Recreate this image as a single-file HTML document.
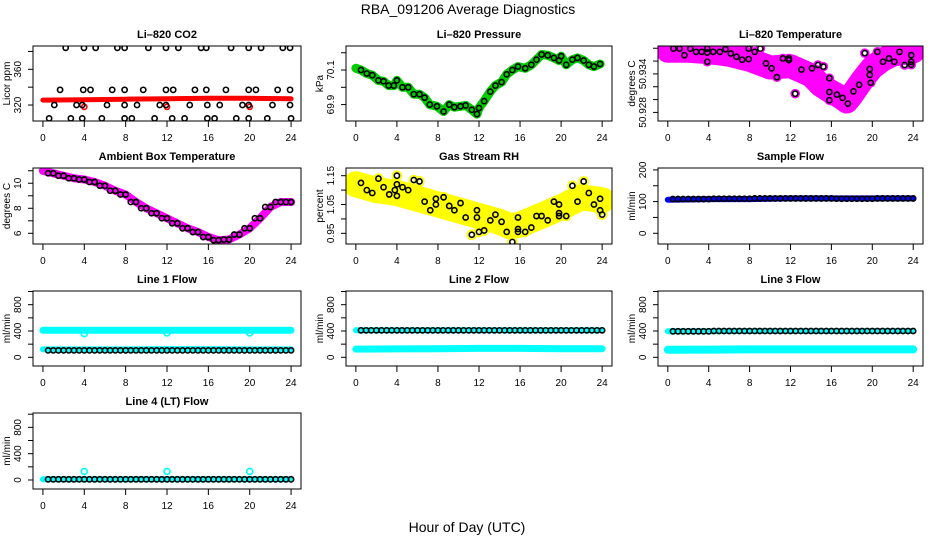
<!DOCTYPE html>
<html><head><meta charset="utf-8">
<style>
html,body{margin:0;padding:0;background:#fff;}
svg{display:block;font-family:"Liberation Sans",sans-serif;}
</style></head>
<body>
<svg id="chart" width="936" height="540" viewBox="0 0 936 540" xmlns="http://www.w3.org/2000/svg">
<text x="468" y="14" text-anchor="middle" font-size="14">RBA_091206  Average Diagnostics</text>
<text x="467" y="532" text-anchor="middle" font-size="14">Hour of Day (UTC)</text>
</svg>
<script>
// ---------- data ----------
const xTicks = [0,4,8,12,16,20,24];

const co2RedHours = [0,4,8,12,16,20,24];
const co2RedVals = [325.5,326,326.5,327,327.5,327.5,327];
const co2OutHours = [4,12,20];
const co2OutVals = [318,318,318];
const co2BlackHours = [2.2,3.97,5.1,7.2,7.9,10.2,11.9,13.1,15.3,15.8,18.2,19.9,21.1,23.2,23.9,
 1.66,3.9,4.6,6.7,7.9,9.7,11.9,12.6,14.7,15.8,17.7,19.9,20.6,22.7,23.9,
 1.1,3.25,3.8,6.2,7.9,9.1,11.3,11.9,14.2,15.9,17.1,19.3,19.9,22.2,23.9,
 0.6,2.7,3.8,5.7,7.9,8.6,10.8,12.5,13.7,15.9,16.6,18.7,19.9,21.7,24];
const co2BlackVals = [384,384,384,384,384,384,384,384,384,384,384,384,384,384,384,
 337,337,337,337,337,337,337,337,337,337,337,337,337,337,337,
 320,320,320,320,320,320,320,320,320,320,320,320,320,320,320,
 305,305,305,305,305,305,305,305,305,305,305,305,305,305,305];

const presHours = [0,0.5,1.07,1.6,2.2,2.7,3.2,3.7,4.0,4.55,5.1,5.65,6.2,6.7,7.2,7.9,8.55,9.1,9.6,10.2,10.7,11.3,11.8,12,12.5,13.1,13.6,14.2,14.7,15.25,15.8,16.5,17.1,17.6,18.1,18.7,19.3,19.8,20,20.5,21.1,21.6,22.2,22.7,23.2,23.8];
const presVals = [70.11,70.10,70.08,70.07,70.04,70.035,70.01,70.01,70.04,70.0,70.0,69.96,69.96,69.94,69.9,69.89,69.86,69.9,69.885,69.89,69.895,69.87,69.845,69.88,69.92,69.975,70.01,70.03,70.075,70.1,70.12,70.11,70.13,70.16,70.19,70.185,70.17,70.155,70.18,70.13,70.16,70.17,70.155,70.13,70.12,70.135];

const ltBandHours = [0,2,4,6,8,10,12,13,14,15,16,17,17.5,18,19,20,21,22,24];
const ltBandVals = [50.9376,50.9376,50.9374,50.9370,50.9362,50.9350,50.9352,50.9345,50.9338,50.9322,50.9312,50.9303,50.9297,50.9307,50.9330,50.9350,50.9362,50.9370,50.9375];
const ltHours = [0.55,1.14,1.62,2.2,2.76,3.31,3.86,3.86,3.86,4.44,5.09,5.64,6.16,6.71,7.27,7.91,7.91,8.5,9.05,9.6,10.15,10.67,11.26,11.84,11.84,12.46,13.07,14.1,14.69,15.21,15.8,15.8,15.8,16.54,17.09,17.61,18.16,18.71,19.27,19.75,19.75,19.85,20.5,21.05,21.63,22.15,22.67,23.16,23.81,23.81,23.81];
const ltVals = [50.93795,50.93795,50.93692,50.93795,50.93744,50.93744,50.93795,50.93733,50.9359,50.93744,50.93744,50.93785,50.93718,50.93667,50.93621,50.93795,50.93631,50.93744,50.93795,50.93564,50.93487,50.93349,50.93641,50.93641,50.93615,50.93092,50.93467,50.93487,50.93539,50.93513,50.93333,50.93118,50.9299,50.93077,50.93026,50.92938,50.93128,50.9323,50.93723,50.93477,50.93385,50.93262,50.93744,50.9359,50.93641,50.9359,50.93744,50.93539,50.93692,50.9359,50.93544];

const ambHours = [0,1,2,3,4,5,6,7,8,9,10,11,12,13,14,15,16,17,18,19,20,21,22,23,24];
const ambVals = [11.0,10.8,10.6,10.4,10.3,10.1,9.8,9.4,9.1,8.5,8.0,7.6,7.2,6.8,6.4,6.1,5.7,5.45,5.5,5.9,6.4,7.2,8.1,8.5,8.5];

const rhBandHours = [0,2,4,6,8,10,12,14,15,16,18,20,22,24];
const rhBandVals = [1.12,1.10,1.09,1.07,1.05,1.03,1.01,0.99,0.975,0.98,1.01,1.04,1.075,1.065];
const rhHours = [0.5,1.07,1.6,2.2,2.7,3.25,3.8,4,4,4,4.55,5.1,5.65,6.2,6.7,7.25,7.8,7.8,8.55,9.1,9.6,10.2,10.7,11.3,11.8,11.8,12,12.5,13.1,13.6,14.2,14.7,15.25,15.8,15.8,15.8,16.5,17.1,17.6,18.1,18.7,19.3,19.8,19.8,19.8,20.5,21.1,21.6,22.2,22.7,23.2,23.8,23.8,24];
const rhVals = [1.125,1.10,1.09,1.14,1.11,1.085,1.10,1.15,1.12,1.08,1.11,1.10,1.135,1.13,1.06,1.03,1.07,1.05,1.075,1.045,1.03,1.055,1.005,0.945,1.03,1.005,0.955,0.96,0.995,1.015,0.99,0.955,0.92,1.005,0.965,0.955,0.955,0.97,1.01,1.01,0.995,1.06,1.05,1.02,1.01,1.01,1.115,1.06,1.13,1.09,1.05,1.07,1.03,1.015];

const sfHours = [0,4,8,12,16,20,24];
const sfBlue = [106,108,108,110,110,110,110];
const sfBlack = [106,108,109,110,110,109,110];

const l1Cyan = [410,410,410,410,410,410,410];
const l1CyanLow = [120,120,120,125,125,120,120];
const l1Black = [105,105,105,105,105,105,105];
const l1OutHours = [4,12,20];
const l1OutVals = [360,370,370];
const l2CyanLow = [125,128,130,135,135,130,130];
const l2Black = [410,410,410,410,410,410,410];
const l3CyanLow = [115,118,120,120,120,120,120];
const l3Black = [395,395,400,400,400,400,400];
const l4Black = [10,10,10,10,10,10,10];
const l4OutHours = [4,12,20];
const l4OutVals = [130,130,130];

// ---------- drawing ----------
const svg = document.getElementById('chart');
const NS = 'http://www.w3.org/2000/svg';
function mk(tag, attrs, parent){
  const e = document.createElementNS(NS, tag);
  for (const k in attrs) e.setAttribute(k, attrs[k]);
  (parent||svg).appendChild(e);
  return e;
}
const cols = [[33,301],[346,612],[658,923]];
const rows = [[46,121],[168,244],[291,366],[413,489]];

function panel(name, c, r, ymin, ymax, ticks, labels, ylab, title){
  const [x0,x1] = cols[c], [y0,y1] = rows[r];
  const g = mk('g', {});
  
  
  const sx = h => x0 + (h + 0.96) / 25.92 * (x1 - x0);
  const sy = v => y1 - (v - ymin) / (ymax - ymin) * (y1 - y0);
  const clip = mk('clipPath', {id: 'clip-' + name}, g);
  mk('rect', {x:x0, y:y0, width:x1-x0, height:y1-y0}, clip);
  const plot = mk('g', {'clip-path': 'url(#clip-' + name + ')'}, g);
  
  
  const t = mk('text', {x:(x0+x1)/2, y:y0-8, 'text-anchor':'middle', 'font-size':11, 'font-weight':'bold'}, g);
  t.textContent = title;
  
  
  xTicks.forEach(h => {
    mk('line', {x1:sx(h), x2:sx(h), y1:y1, y2:y1+6, stroke:'#000', 'stroke-width':1}, g);
    const tl = mk('text', {x:sx(h), y:y1+20, 'text-anchor':'middle', 'font-size':10}, g);
    tl.textContent = h;
    
    
  });
  ticks.forEach(v => {
    mk('line', {x1:x0-5, x2:x0, y1:sy(v), y2:sy(v), stroke:'#000', 'stroke-width':1}, g);
  });
  labels.forEach(v => {
    const yl = mk('text', {x:0, y:0, 'text-anchor':'middle', 'font-size':10, transform:'translate(' + (x0-12) + ',' + sy(v) + ') rotate(-90)'}, g);
    yl.textContent = v;
    
    
  });
  const yt = mk('text', {x:0, y:0, 'text-anchor':'middle', 'font-size':10, transform:'translate(' + (x0-23) + ',' + ((y0+y1)/2) + ') rotate(-90)'}, g);
  yt.textContent = ylab;
  
  
  mk('rect', {x:x0, y:y0, width:x1-x0, height:y1-y0, fill:'none', stroke:'#000', 'stroke-width':1}, g);
  return {plot, sx, sy};
}
function band(p, hours, vals, color, w, name){
  const d = hours.map((h,i) => (i ? 'L' : 'M') + p.sx(h).toFixed(1) + ',' + p.sy(vals[i]).toFixed(1)).join(' ');
  const e = mk('path', {d, fill:'none', stroke:color, 'stroke-width':w, 'stroke-linecap':'round', 'stroke-linejoin':'round'}, p.plot);
  
  
}
function pts(p, hours, vals, color, name, rr){
  hours.forEach((h,i) => {
    const c = mk('circle', {cx:p.sx(h), cy:p.sy(vals[i]), r:rr||2.6, fill:'none', stroke:color, 'stroke-width':1.6}, p.plot);
    
    
  });
}
function halfPts(p, hours, vals, color, name){
  for (let i = 0; i < hours.length - 1; i++) {
    for (let h = hours[i] + 0.5; h <= hours[i+1] + 0.001; h += 0.5) {
      const c = mk('circle', {cx:p.sx(h), cy:p.sy(vals[i+1]), r:2.6, fill:'none', stroke:color, 'stroke-width':1.6}, p.plot);
      
      
    }
  }
}

let p = panel('co2', 0, 0, 302.1, 386.1, [320,340,360,380], [320,360], 'Licor ppm', 'Li\u2013820 CO2');
band(p, co2RedHours, co2RedVals, '#f00', 5, 'co2-red-series');
pts(p, co2OutHours, co2OutVals, '#f00', 'co2-red-outlier');
pts(p, co2BlackHours, co2BlackVals, '#000', 'co2-black-point');

p = panel('pressure', 1, 0, 69.805, 70.239, [69.9,70.0,70.1,70.2], ['69.9','70.1'], 'kPa', 'Li\u2013820 Pressure');
band(p, presHours, presVals, '#0c0', 9, 'pressure-green-series');
pts(p, presHours.slice(1), presVals.slice(1), '#000', 'pressure-black-point');

p = panel('li-temp', 2, 0, 50.92666, 50.93835, [50.928,50.930,50.932,50.934,50.936,50.938], ['50.928','50.934'], 'degrees C', 'Li\u2013820 Temperature');
band(p, ltBandHours, ltBandVals, '#f0f', 24, 'li-temp-magenta-series');
pts(p, ltHours, ltVals, '#f0f', 'li-temp-magenta-point', 4);
pts(p, ltHours, ltVals, '#000', 'li-temp-black-point');

p = panel('ambient', 0, 1, 5.144, 11.22, [6,7,8,9,10,11], [6,8,10], 'degrees C', 'Ambient Box Temperature');
band(p, ambHours, ambVals, '#f0f', 8, 'ambient-magenta-series');
pts(p, ambHours.slice(1), ambVals.slice(1), '#000', 'ambient-black-point');
halfPts(p, ambHours, ambVals, '#000', 'ambient-black-point');

p = panel('rh', 1, 1, 0.913, 1.1767, [0.95,1.0,1.05,1.1,1.15], ['0.95','1.05','1.15'], 'percent', 'Gas Stream RH');
band(p, rhBandHours, rhBandVals, '#ff0', 26, 'rh-yellow-series');
pts(p, rhHours, rhVals, '#ff0', 'rh-yellow-point', 4.5);
pts(p, rhHours, rhVals, '#000', 'rh-black-point');

p = panel('sample-flow', 2, 1, -33.8, 206, [0,50,100,150,200], [0,100,200], 'ml/min', 'Sample Flow');
band(p, sfHours, sfBlue, '#00f', 6, 'sample-flow-blue-series');
halfPts(p, sfHours, sfBlack, '#000', 'sample-flow-black-point');

const flowTicks = [0,200,400,600,800,1000], flowLabels = [0,400,800];
p = panel('line1', 0, 2, -132, 1008, flowTicks, flowLabels, 'ml/min', 'Line 1 Flow');
band(p, sfHours, l1Cyan, '#0ff', 7, 'line1-cyan-high');
band(p, sfHours, l1CyanLow, '#0ff', 6, 'line1-cyan-low');
pts(p, l1OutHours, l1OutVals, '#0ff', 'line1-cyan-outlier', 3);
halfPts(p, sfHours, l1Black, '#000', 'line1-black-point');

p = panel('line2', 1, 2, -132, 1008, flowTicks, flowLabels, 'ml/min', 'Line 2 Flow');
band(p, sfHours, l2CyanLow, '#0ff', 7, 'line2-cyan-low');
band(p, sfHours, l2Black, '#0ff', 6, 'line2-cyan-high');
halfPts(p, sfHours, l2Black, '#000', 'line2-black-point');

p = panel('line3', 2, 2, -132, 1008, flowTicks, flowLabels, 'ml/min', 'Line 3 Flow');
band(p, sfHours, l3CyanLow, '#0ff', 8, 'line3-cyan-low');
band(p, sfHours, l3Black, '#0ff', 6, 'line3-cyan-high');
halfPts(p, sfHours, l3Black, '#000', 'line3-black-point');

p = panel('line4', 0, 3, -137, 1018, flowTicks, flowLabels, 'ml/min', 'Line 4 (LT) Flow');
band(p, sfHours, l4Black, '#0ff', 6, 'line4-cyan-series');
pts(p, l4OutHours, l4OutVals, '#0ff', 'line4-cyan-outlier', 3);
halfPts(p, sfHours, l4Black, '#000', 'line4-black-point');
</script>
</body></html>
